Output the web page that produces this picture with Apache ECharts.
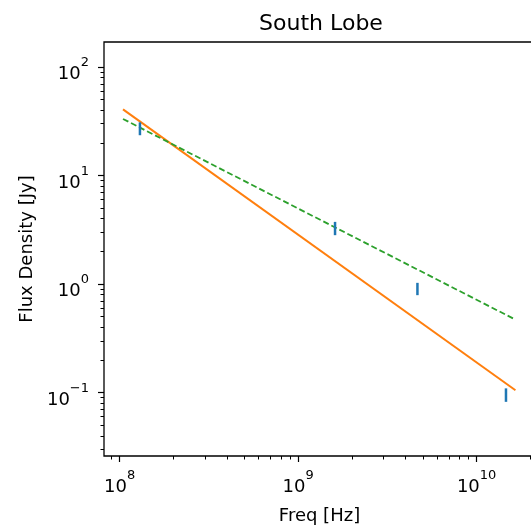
<!DOCTYPE html>
<html><head><meta charset="utf-8">
<script src="https://cdn.jsdelivr.net/npm/echarts@6/dist/echarts.min.js"></script>
<style>html,body{margin:0;padding:0;background:#fff}#c{width:531px;height:526px}</style>
</head><body><div id="c"></div>
<script>
// measured data points (frequency in Hz, flux density in Jy)
const freqs = [1.30e8, 1.61e9, 4.66e9, 1.46e10];
const flux = [27.2, 3.28, 0.908, 0.0958];
const fluxErr = [3.7, 0.46, 0.118, 0.0136];
// fitted power-law lines (end points)
const fitFreq = [1.045e8, 1.65e10];
const fitSolid = [40.7, 0.105];
const fitDashed = [33.2, 0.47];
// ticks
const xMajorTicks = [1e8, 1e9, 1e10];
const xTickExps = ['8', '9', '10'];
const xMinorTicks = [9e7, 2e8, 3e8, 4e8, 5e8, 6e8, 7e8, 8e8, 9e8, 2e9, 3e9, 4e9, 5e9, 6e9, 7e9, 8e9, 9e9, 2e10];
const yMajorTicks = [0.1, 1, 10, 100];
const yTickExps = ['\u22121', '0', '1', '2'];
const yMinorTicks = [0.03, 0.04, 0.05, 0.06, 0.07, 0.08, 0.09, 0.2, 0.3, 0.4, 0.5, 0.6, 0.7, 0.8, 0.9, 2, 3, 4, 5, 6, 7, 8, 9, 20, 30, 40, 50, 60, 70, 80, 90];
const xRange = [8.177e7, 2.123e10];
const yRange = [0.02606, 169.8];

const FONT = 'DejaVu Sans';
const rich = {
  b: {fontSize: 18, lineHeight: 27, verticalAlign: 'bottom', fontFamily: FONT, color: '#000'},
  s: {fontSize: 13, lineHeight: 13, verticalAlign: 'top', fontFamily: FONT, color: '#000'}
};
function fmt(ticks, exps) {
  return function (v) {
    let best = 0, bd = Infinity;
    ticks.forEach((t, i) => { const d = Math.abs(Math.log10(t) - Math.log10(v)); if (d < bd) { bd = d; best = i; } });
    return '{b|10}{s|' + exps[best] + '}';
  };
}
const gridRect = {left: 104, top: 42, width: 431, height: 414, containLabel: false, outerBoundsMode: 'none'};
const chart = echarts.init(document.getElementById('c'), null, {renderer: 'canvas'});
chart.setOption({
  animation: false,
  backgroundColor: '#fff',
  title: {text: 'South Lobe', left: 316, top: 8, textAlign: 'center',
    textStyle: {fontFamily: FONT, fontSize: 22, fontWeight: 'normal', color: '#000'}},
  grid: [
    Object.assign({show: true, borderColor: '#000', borderWidth: 1.3, backgroundColor: 'transparent'}, gridRect),
    Object.assign({show: false}, gridRect)
  ],
  xAxis: [
    {type: 'log', logBase: 10, gridIndex: 0, min: xRange[0], max: xRange[1], position: 'bottom',
      axisLine: {show: false}, splitLine: {show: false},
      axisTick: {show: true, length: 6, lineStyle: {color: '#000', width: 1.2}, customValues: xMajorTicks},
      axisLabel: {customValues: xMajorTicks, formatter: fmt(xMajorTicks, xTickExps), margin: 13, rich: rich},
      name: 'Freq [Hz]', nameLocation: 'middle', nameGap: 51,
      nameTextStyle: {fontFamily: FONT, fontSize: 18, color: '#000'}},
    {type: 'log', logBase: 10, gridIndex: 1, min: xRange[0], max: xRange[1], position: 'bottom',
      axisLine: {show: false}, splitLine: {show: false}, axisLabel: {show: false},
      axisTick: {show: true, length: 3.5, lineStyle: {color: '#000', width: 1}, customValues: xMinorTicks}}
  ],
  yAxis: [
    {type: 'log', logBase: 10, gridIndex: 0, min: yRange[0], max: yRange[1], position: 'left',
      axisLine: {show: false}, splitLine: {show: false},
      axisTick: {show: true, length: 6, lineStyle: {color: '#000', width: 1.2}, customValues: yMajorTicks},
      axisLabel: {customValues: yMajorTicks, formatter: fmt(yMajorTicks, yTickExps), margin: 15, padding: [6, 0, 0, 0], rich: rich},
      name: 'Flux Density [Jy]', nameLocation: 'middle', nameGap: 67,
      nameTextStyle: {fontFamily: FONT, fontSize: 18, color: '#000'}},
    {type: 'log', logBase: 10, gridIndex: 1, min: yRange[0], max: yRange[1], position: 'left',
      axisLine: {show: false}, splitLine: {show: false}, axisLabel: {show: false},
      axisTick: {show: true, length: 3.5, lineStyle: {color: '#000', width: 1}, customValues: yMinorTicks}}
  ],
  series: [
    {type: 'line', xAxisIndex: 0, yAxisIndex: 0, symbol: 'none', silent: true,
      data: fitFreq.map((f, i) => [f, fitSolid[i]]),
      lineStyle: {color: '#ff7f0e', width: 2}},
    {type: 'line', xAxisIndex: 0, yAxisIndex: 0, symbol: 'none', silent: true,
      data: fitFreq.map((f, i) => [f, fitDashed[i]]),
      lineStyle: {color: '#2ca02c', width: 1.8, type: [6, 3]}},
    {type: 'custom', xAxisIndex: 0, yAxisIndex: 0, silent: true, z: 5,
      dimensions: ['x', 'lo', 'hi'], encode: {x: 0, y: [1, 2]},
      data: freqs.map((f, i) => [f, flux[i] - fluxErr[i], flux[i] + fluxErr[i]]),
      renderItem: function (params, api) {
        const x = api.value(0);
        const p1 = api.coord([x, api.value(1)]);
        const p2 = api.coord([x, api.value(2)]);
        return {type: 'line', shape: {x1: p1[0], y1: p1[1], x2: p2[0], y2: p2[1]},
          style: {stroke: '#1f77b4', lineWidth: 2.5}};
      }}
  ]
});
</script></body></html>
